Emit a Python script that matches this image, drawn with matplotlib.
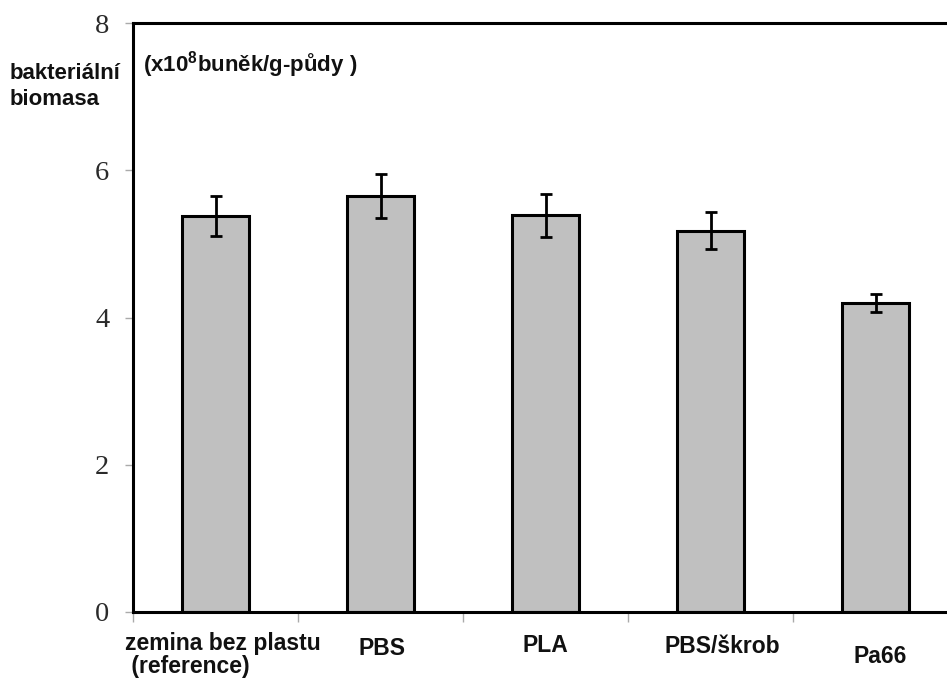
import matplotlib
matplotlib.use('Agg')
import matplotlib.pyplot as plt
import matplotlib.transforms as mtransforms
import numpy as np

# data
categories = ['zemina bez plastu\n (reference)', 'PBS', 'PLA', 'PBS/škrob', 'Pa66']
biomass = [5.38, 5.65, 5.39, 5.18, 4.20]
biomass_err = [0.27, 0.30, 0.29, 0.25, 0.12]
y_ticks = [0, 2, 4, 6, 8]

plt.rcParams['mathtext.fontset'] = 'custom'
plt.rcParams['mathtext.bf'] = 'Liberation Sans:bold'
plt.rcParams['mathtext.rm'] = 'Liberation Sans:bold'

W, H = 947, 681
fig = plt.figure(figsize=(W / 100, H / 100), dpi=100)

# axes box in pixels: x 133..958 (right edge cropped), y 23..612
left, right, top, bottom = 133, 958, 23.3, 611.7
ax = fig.add_axes([left / W, 1 - bottom / H, (right - left) / W, (bottom - top) / H])

x = np.arange(len(categories))
ax.bar(x, biomass, width=0.41, color='#c0c0c0', edgecolor='black', linewidth=2.2, zorder=2)
ax.errorbar(x, biomass, yerr=biomass_err, fmt='none', ecolor='black',
            elinewidth=2.0, capsize=4.5, capthick=2.0, zorder=3)

ax.set_xlim(-0.5, len(categories) - 0.5)
ax.set_ylim(0, 8)

for side in ['left', 'top', 'bottom', 'right']:
    ax.spines[side].set_linewidth(2.2)
    ax.spines[side].set_color('black')

ax.set_yticks(y_ticks)
ax.set_yticklabels([str(t) for t in y_ticks], fontfamily='Liberation Serif', fontsize=20.5, color='#2a2a2a')
ax.tick_params(axis='y', length=6, width=1, color='#aaaaaa', pad=11)

# x ticks only at category boundaries, labels drawn by hand below
ax.set_xticks(np.arange(-0.5, len(categories) - 0.4, 1.0))
ax.set_xticklabels([])
ax.tick_params(axis='x', length=7, width=1, color='#aaaaaa')

trans = mtransforms.blended_transform_factory(ax.transData, fig.transFigure)
label_x = [-0.55, 1.01, 2.0, 3.07, 4.03]
label_ha = ['left', 'center', 'center', 'center', 'center']
label_base = [650, 655, 652, 653, 663]
for lab, lx, ha, yb in zip(categories, label_x, label_ha, label_base):
    for i, line in enumerate(lab.split('\n')):
        ax.text(lx, 1 - (yb + i * 23) / H, line, transform=trans, ha=ha, va='baseline',
                fontfamily='Liberation Sans', fontweight='bold', fontsize=16.5, color='#111111')

fig.text(10 / W, 1 - 79 / H, 'bakteriální', ha='left', va='baseline',
         fontfamily='Liberation Sans', fontweight='bold', fontsize=16, color='#111111')
fig.text(10 / W, 1 - 105 / H, 'biomasa', ha='left', va='baseline',
         fontfamily='Liberation Sans', fontweight='bold', fontsize=16, color='#111111')
fig.text(143 / W, 1 - 72 / H, r'(x10$^{\mathbf{8}}$buněk/g-půdy )', ha='left', va='baseline',
         fontfamily='Liberation Sans', fontweight='bold', fontsize=16, color='#111111')

plt.savefig('out.png', dpi=100)
